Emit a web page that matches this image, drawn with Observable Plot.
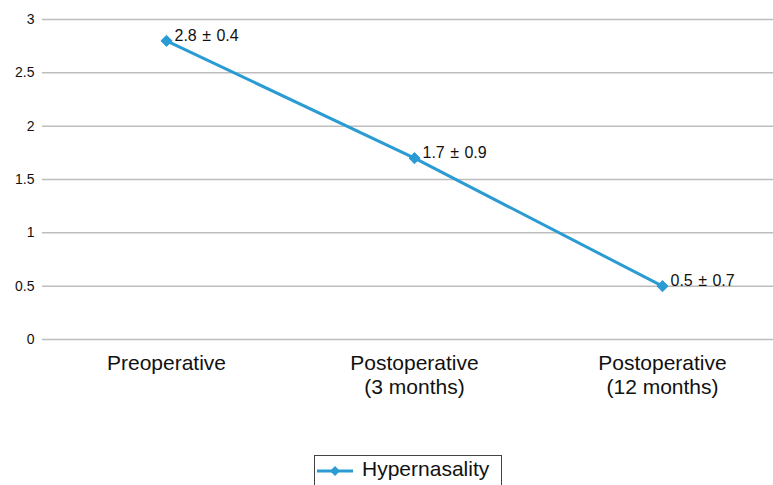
<!DOCTYPE html>
<html>
<head>
<meta charset="utf-8">
<script src="https://cdn.jsdelivr.net/npm/d3@7"></script>
<script src="https://cdn.jsdelivr.net/npm/@observablehq/plot@0.6"></script>
<style>
  body { margin: 0; background: #fff; font-family: "Liberation Sans", Arial, sans-serif; overflow: hidden; }
  #wrap { position: relative; width: 773px; height: 485px; overflow: hidden; }
  #legend { position: absolute; left: 314px; top: 455px; width: 188px; height: 34px;
    border: 1px solid #444; box-sizing: border-box; display: flex; align-items: flex-start; padding-top: 1px;
    font-size: 21px; color: #111; }
  #legend svg { margin-left: 2px; margin-right: 9px; margin-top: 7px; }
  .ann text { word-spacing: 1px; }
</style>
</head>
<body>
<div id="wrap"><div id="chart"></div><div id="legend"></div></div>
<script>
const categories = ["Preoperative", "Postoperative\n(3 months)", "Postoperative\n(12 months)"];
const means = [2.8, 1.7, 0.5];
const sds = [0.4, 0.9, 0.7];
const yTicks = [0, 0.5, 1, 1.5, 2, 2.5, 3];
const seriesName = "Hypernasality";
const lineColor = "#2b9bd3";

const data = categories.map((c, i) => ({cat: c, mean: means[i], sd: sds[i], label: `${means[i]} ± ${sds[i]}`}));

const chart = Plot.plot({
  width: 773,
  height: 440,
  marginTop: 19,
  marginBottom: 101,
  marginLeft: 42,
  marginRight: 0,
  style: {fontFamily: "Liberation Sans, Arial, sans-serif", color: "#111", background: "#fff"},
  x: {type: "point", domain: categories, range: [166, 662], padding: 0},
  y: {domain: [0, 3], range: [339, 19], label: null},
  marks: [
    Plot.ruleY(yTicks, {stroke: "#bdbdbd", strokeWidth: 1.5}),
    Plot.axisY({ticks: yTicks, tickSize: 0, tickPadding: 8, fontSize: 14, label: null, tickFormat: d => String(d)}),
    Plot.axisX({tickSize: 0, tickPadding: 13, fontSize: 21, lineHeight: 1.15, label: null}),
    Plot.line(data, {x: "cat", y: "mean", stroke: lineColor, strokeWidth: 3}),
    Plot.dot(data, {x: "cat", y: "mean", symbol: "diamond2", fill: lineColor, stroke: lineColor, strokeWidth: 1, r: 5}),
    Plot.text(data, {x: "cat", y: "mean", text: "label", textAnchor: "start", dx: 8, dy: -5, fontSize: 16, fill: "#111", className: "ann"})
  ]
});
document.getElementById("chart").appendChild(chart);

const legend = document.getElementById("legend");
const ns = "http://www.w3.org/2000/svg";
const s = document.createElementNS(ns, "svg");
s.setAttribute("width", 36); s.setAttribute("height", 14);
s.innerHTML = `<line x1="0" y1="7" x2="36" y2="7" stroke="${lineColor}" stroke-width="3"/>` +
  `<path d="M18,2 L23,7 L18,12 L13,7 Z" fill="${lineColor}"/>`;
legend.appendChild(s);
legend.appendChild(document.createTextNode(seriesName));
</script>
</body>
</html>
